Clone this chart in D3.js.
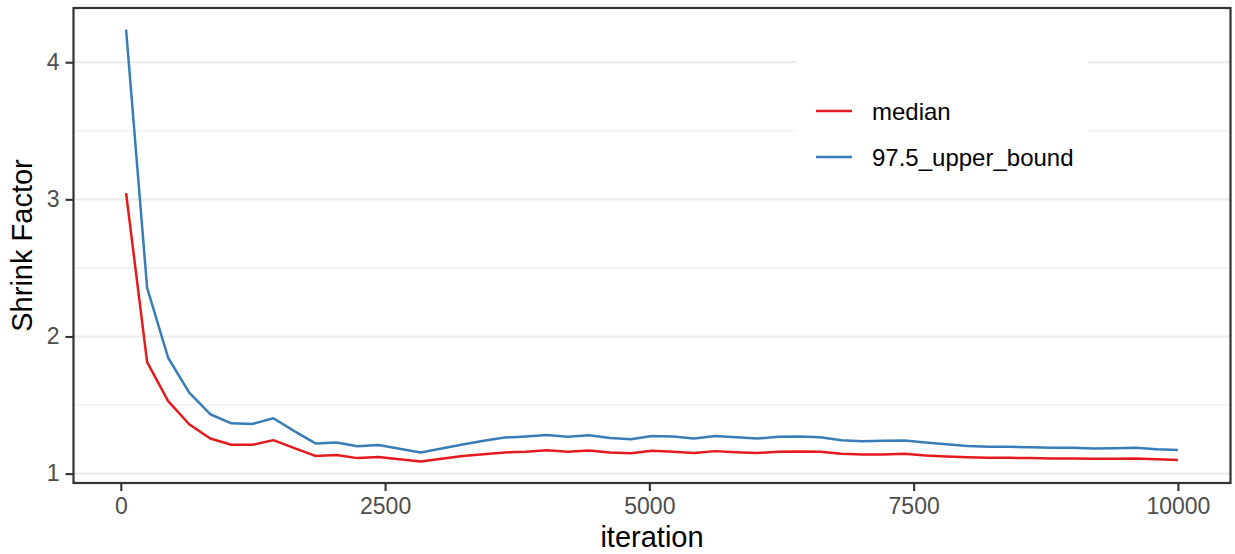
<!DOCTYPE html>
<html>
<head>
<meta charset="utf-8">
<script src="https://cdn.jsdelivr.net/npm/d3@7"></script>
<style>
  body { margin: 0; background: #ffffff; }
  text { font-family: "Liberation Sans", Arial, Helvetica, sans-serif; }
</style>
</head>
<body>
<svg id="chart" width="1235" height="554"></svg>
<script>
// Gelman–Rubin shrink factor by last iteration of each bin
const iterations = [50, 249, 448, 647, 846, 1045, 1244, 1443, 1642, 1841,
  2040, 2239, 2438, 2637, 2836, 3035, 3234, 3433, 3632, 3831,
  4030, 4229, 4428, 4627, 4826, 5025, 5224, 5423, 5622, 5821,
  6020, 6219, 6418, 6617, 6816, 7015, 7214, 7413, 7612, 7811,
  8010, 8209, 8408, 8607, 8806, 9005, 9204, 9403, 9602, 9801, 10000];

const median = [3.045, 1.813, 1.529, 1.36, 1.256, 1.21, 1.21, 1.244, 1.186, 1.129,
  1.135, 1.113, 1.122, 1.105, 1.089, 1.109, 1.129, 1.142, 1.154, 1.16,
  1.171, 1.159, 1.169, 1.154, 1.149, 1.166, 1.159, 1.151, 1.164, 1.156,
  1.151, 1.159, 1.161, 1.159, 1.144, 1.14, 1.14, 1.144, 1.132, 1.125,
  1.12, 1.115, 1.115, 1.113, 1.11, 1.11, 1.108, 1.108, 1.11, 1.105, 1.1];

const upperBound = [4.238, 2.354, 1.845, 1.59, 1.433, 1.367, 1.362, 1.404, 1.31, 1.22,
  1.227, 1.2, 1.209, 1.182, 1.154, 1.183, 1.212, 1.239, 1.263, 1.271,
  1.282, 1.268, 1.28, 1.26, 1.251, 1.275, 1.271, 1.256, 1.275, 1.265,
  1.256, 1.268, 1.271, 1.265, 1.244, 1.236, 1.239, 1.241, 1.227, 1.215,
  1.202, 1.195, 1.195, 1.193, 1.188, 1.188, 1.183, 1.185, 1.188, 1.178, 1.173];

const seriesNames = ["median", "97.5_upper_bound"];
const seriesColors = ["#E41A1C", "#377EB8"];
const xTicks = [0, 2500, 5000, 7500, 10000];
const yTicks = [1, 2, 3, 4];
const yMinorTicks = [1.5, 2.5, 3.5];
const xTitle = "iteration";
const yTitle = "Shrink Factor";

const series = [
  { name: seriesNames[0], color: seriesColors[0], values: median },
  { name: seriesNames[1], color: seriesColors[1], values: upperBound }
];

const svg = d3.select("#chart");
const panel = { left: 73.5, right: 1230.5, top: 8, bottom: 483 };

// continuous scales padded by 5% of the data range on both ends
function padded(ext) {
  const pad = (ext[1] - ext[0]) * 0.05;
  return [ext[0] - pad, ext[1] + pad];
}
const x = d3.scaleLinear()
  .domain(padded(d3.extent(iterations)))
  .range([panel.left, panel.right]);
const y = d3.scaleLinear()
  .domain(padded(d3.extent(median.concat(upperBound))))
  .range([panel.bottom, panel.top]);

// panel background
svg.append("rect")
  .attr("x", panel.left).attr("y", panel.top)
  .attr("width", panel.right - panel.left).attr("height", panel.bottom - panel.top)
  .attr("fill", "#ffffff");

// horizontal grid lines
svg.append("g").selectAll("line").data(yMinorTicks).join("line")
  .attr("x1", panel.left).attr("x2", panel.right)
  .attr("y1", d => y(d)).attr("y2", d => y(d))
  .attr("stroke", "#EBEBEB").attr("stroke-width", 1.1);
svg.append("g").selectAll("line").data(yTicks).join("line")
  .attr("x1", panel.left).attr("x2", panel.right)
  .attr("y1", d => y(d)).attr("y2", d => y(d))
  .attr("stroke", "#EBEBEB").attr("stroke-width", 2.2);

// series lines
const line = d3.line()
  .x((d, i) => x(iterations[i]))
  .y(d => y(d));
svg.append("g").selectAll("path").data(series).join("path")
  .attr("d", d => line(d.values))
  .attr("fill", "none")
  .attr("stroke", d => d.color)
  .attr("stroke-width", 2.5)
  .attr("stroke-linejoin", "round");

// legend inside the panel
const legend = svg.append("g");
legend.append("rect")
  .attr("x", 796).attr("y", 55).attr("width", 292).attr("height", 137)
  .attr("fill", "#ffffff");
const items = legend.selectAll("g.item").data(series).join("g")
  .attr("class", "item")
  .attr("transform", (d, i) => `translate(816, ${111 + i * 46})`);
items.append("line")
  .attr("x1", 0).attr("x2", 36).attr("y1", 0).attr("y2", 0)
  .attr("stroke", d => d.color).attr("stroke-width", 2.5);
items.append("text")
  .attr("x", 56).attr("y", 8.5)
  .attr("font-size", 24).attr("fill", "#000000")
  .text(d => d.name);

// axes
const xAxis = svg.append("g")
  .attr("transform", `translate(0, ${panel.bottom})`)
  .call(d3.axisBottom(x).tickValues(xTicks).tickFormat(d3.format("d")).tickSizeOuter(0).tickSize(8).tickPadding(7));
const yAxis = svg.append("g")
  .attr("transform", `translate(${panel.left}, 0)`)
  .call(d3.axisLeft(y).tickValues(yTicks).tickFormat(d3.format("d")).tickSizeOuter(0).tickSize(8).tickPadding(6));
[xAxis, yAxis].forEach(g => {
  g.select(".domain").remove();
  g.selectAll(".tick line").attr("stroke", "#333333").attr("stroke-width", 2.1);
  g.selectAll(".tick text")
    .attr("fill", "#4D4D4D")
    .attr("font-size", 23)
    .attr("font-family", "\"Liberation Sans\", Arial, Helvetica, sans-serif");
});

// panel border
svg.append("rect")
  .attr("x", panel.left).attr("y", panel.top)
  .attr("width", panel.right - panel.left).attr("height", panel.bottom - panel.top)
  .attr("fill", "none").attr("stroke", "#333333").attr("stroke-width", 2.2);

// axis titles
svg.append("text")
  .attr("x", (panel.left + panel.right) / 2).attr("y", 547)
  .attr("text-anchor", "middle").attr("font-size", 29).attr("fill", "#000000")
  .text(xTitle);
svg.append("text")
  .attr("transform", `translate(32, ${(panel.top + panel.bottom) / 2}) rotate(-90)`)
  .attr("text-anchor", "middle").attr("font-size", 29).attr("fill", "#000000")
  .text(yTitle);
</script>
</body>
</html>
